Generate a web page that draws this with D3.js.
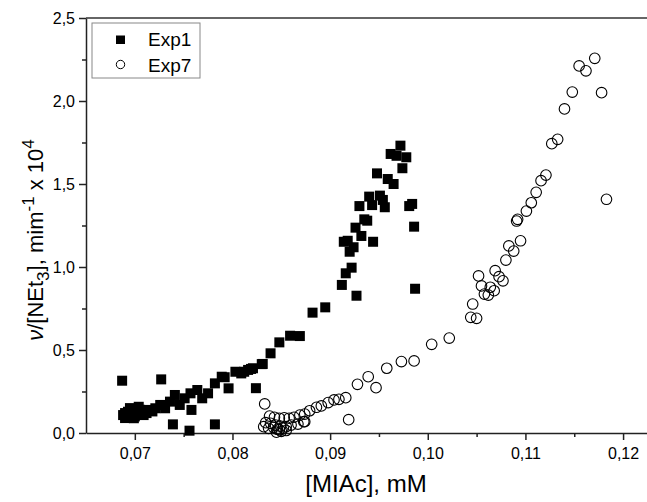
<!DOCTYPE html>
<html>
<head>
<meta charset="utf-8">
<script src="https://cdn.jsdelivr.net/npm/d3@7"></script>
<style>
  body { margin: 0; background: #fff; }
  text { font-family: Arial, "Liberation Sans", sans-serif; fill: #000; }
</style>
</head>
<body>
<script>
// Exp1 (filled squares): [MIAc] mM, rate
var exp1X = [0.0687, 0.0727, 0.0739, 0.0756, 0.0782, 0.0824, 0.0830,
  0.0688, 0.0693, 0.0699, 0.0704, 0.0709, 0.0714, 0.0721, 0.0726, 0.0731, 0.0736,
  0.0741, 0.0746, 0.0751, 0.0758, 0.0757, 0.0764, 0.0769, 0.0775, 0.0782, 0.0789,
  0.0796, 0.0803, 0.0809, 0.0816, 0.0821, 0.0690, 0.0700, 0.0705, 0.0712, 0.0695,
  0.0718, 0.0690, 0.0792, 0.0812, 0.0819, 0.0831, 0.0839, 0.0848, 0.0859, 0.0869,
  0.0882, 0.0895, 0.0927, 0.0972, 0.0962, 0.0968, 0.0978, 0.0974, 0.0948, 0.0959,
  0.0965, 0.0940, 0.0951, 0.0954, 0.0943, 0.0956, 0.0930, 0.0981, 0.0984, 0.0935,
  0.0938, 0.0926, 0.0986, 0.0932, 0.0914, 0.0918, 0.0944, 0.0924, 0.0920, 0.0922,
  0.0916, 0.0912, 0.0987];
var exp1Y = [0.315, 0.323, 0.052, 0.014, 0.052, 0.270, 0.415,
  0.108, 0.128, 0.089, 0.158, 0.108, 0.139, 0.149, 0.169, 0.149, 0.189,
  0.229, 0.169, 0.209, 0.139, 0.239, 0.259, 0.209, 0.239, 0.299, 0.339,
  0.269, 0.369, 0.359, 0.380, 0.390, 0.120, 0.100, 0.140, 0.120, 0.150,
  0.130, 0.090, 0.336, 0.369, 0.386, 0.416, 0.480, 0.546, 0.586, 0.584,
  0.725, 0.757, 0.827, 1.731, 1.681, 1.670, 1.661, 1.595, 1.564, 1.530,
  1.500, 1.424, 1.430, 1.404, 1.373, 1.360, 1.367, 1.367, 1.380, 1.287,
  1.279, 1.237, 1.243, 1.187, 1.152, 1.158, 1.152, 1.119, 1.092, 0.996,
  0.962, 0.892, 0.869];

// Exp7 (open circles)
var exp7X = [0.1171, 0.1155, 0.1162, 0.1148, 0.1178, 0.1140, 0.1133, 0.1127,
  0.1121, 0.1116, 0.1111, 0.1106, 0.1101, 0.1183, 0.1092, 0.1091, 0.1095, 0.1083,
  0.1088, 0.1080, 0.1069, 0.1073, 0.1077, 0.1052, 0.1055, 0.1064, 0.1068, 0.1058,
  0.1062, 0.1046, 0.1044, 0.1050, 0.1022, 0.1004, 0.0986, 0.0973, 0.0958, 0.0947,
  0.0939, 0.0928, 0.0919, 0.0833, 0.0916, 0.0909, 0.0904, 0.0898, 0.0891, 0.0886,
  0.0879, 0.0874, 0.0869, 0.0863, 0.0858, 0.0853, 0.0848, 0.0843, 0.0838, 0.0874,
  0.0867, 0.0860, 0.0855, 0.0849, 0.0844, 0.0839, 0.0834, 0.0832, 0.0837, 0.0842,
  0.0846, 0.0850, 0.0848, 0.0852, 0.0855, 0.0845, 0.0873];
var exp7Y = [2.257, 2.211, 2.182, 2.054, 2.050, 1.952, 1.769, 1.743,
  1.554, 1.520, 1.450, 1.387, 1.337, 1.408, 1.287, 1.277, 1.158, 1.127,
  1.096, 1.042, 0.978, 0.942, 0.917, 0.946, 0.886, 0.878, 0.857, 0.837,
  0.831, 0.777, 0.697, 0.691, 0.572, 0.534, 0.434, 0.430, 0.390, 0.273,
  0.339, 0.293, 0.080, 0.175, 0.213, 0.203, 0.199, 0.183, 0.163, 0.155,
  0.134, 0.114, 0.108, 0.095, 0.089, 0.092, 0.089, 0.095, 0.102, 0.068,
  0.054, 0.048, 0.038, 0.042, 0.048, 0.058, 0.062, 0.038, 0.028, 0.034,
  0.022, 0.010, 0.020, 0.030, 0.015, 0.005, 0.068];

var xTicks = [0.07, 0.08, 0.09, 0.10, 0.11, 0.12];
var xMinor = [0.075, 0.085, 0.095, 0.105, 0.115];
var yTicks = [0.0, 0.5, 1.0, 1.5, 2.0, 2.5];
var yMinor = [0.25, 0.75, 1.25, 1.75, 2.25];

var width = 647, height = 502;
var plotLeft = 86, plotTop = 18, plotBottom = 433;

var svg = d3.select("body").append("svg")
  .attr("width", width)
  .attr("height", height);

var x = d3.scaleLinear().domain([0.065, 0.12245]).range([plotLeft, width]);
var y = d3.scaleLinear().domain([0, 2.5]).range([plotBottom, plotTop]);

var fmt = function (d) { return d.toFixed(2).replace(".", ","); };
var fmtY = function (d) { return d.toFixed(1).replace(".", ","); };

// minor ticks
svg.append("g")
  .attr("transform", "translate(0," + plotBottom + ")")
  .call(d3.axisBottom(x).tickValues(xMinor).tickSize(4).tickFormat(""))
  .call(function (g) { g.select(".domain").remove(); });
svg.append("g")
  .attr("transform", "translate(" + plotLeft + ",0)")
  .call(d3.axisLeft(y).tickValues(yMinor).tickSize(4).tickFormat(""))
  .call(function (g) { g.select(".domain").remove(); });

var xAxis = svg.append("g")
  .attr("transform", "translate(0," + plotBottom + ")")
  .call(d3.axisBottom(x).tickValues(xTicks).tickSize(7).tickSizeOuter(0).tickPadding(8).tickFormat(fmt))
  .attr("font-size", 16);

var yAxis = svg.append("g")
  .attr("transform", "translate(" + plotLeft + ",0)")
  .call(d3.axisLeft(y).tickValues(yTicks).tickSize(7).tickSizeOuter(0).tickPadding(4).tickFormat(fmtY))
  .attr("font-size", 16);

svg.selectAll(".domain, .tick line").attr("stroke", "#222").attr("stroke-width", 1.5);

// top frame line
svg.append("line")
  .attr("x1", plotLeft).attr("x2", width)
  .attr("y1", plotTop).attr("y2", plotTop)
  .attr("stroke", "#333").attr("stroke-width", 1.5);

// Exp7 circles
svg.append("g").selectAll("circle")
  .data(d3.range(exp7X.length))
  .enter().append("circle")
  .attr("cx", function (i) { return x(exp7X[i]); })
  .attr("cy", function (i) { return y(exp7Y[i]); })
  .attr("r", 5.3)
  .attr("fill", "none")
  .attr("stroke", "#000")
  .attr("stroke-width", 1.1);

// Exp1 squares
svg.append("g").selectAll("rect")
  .data(d3.range(exp1X.length))
  .enter().append("rect")
  .attr("x", function (i) { return x(exp1X[i]) - 5; })
  .attr("y", function (i) { return y(exp1Y[i]) - 5; })
  .attr("width", 10)
  .attr("height", 10)
  .attr("fill", "#000");

// legend
var legend = svg.append("g");
legend.append("rect")
  .attr("x", 92).attr("y", 23).attr("width", 108).attr("height", 55)
  .attr("fill", "#fff").attr("stroke", "#888").attr("stroke-width", 1);
legend.append("rect")
  .attr("x", 116).attr("y", 35.5).attr("width", 9).attr("height", 8.5).attr("fill", "#000");
legend.append("circle")
  .attr("cx", 120.5).attr("cy", 64.5).attr("r", 4.2)
  .attr("fill", "none").attr("stroke", "#000").attr("stroke-width", 1);
legend.append("text").attr("x", 148).attr("y", 46).style("font-size", "19px").text("Exp1");
legend.append("text").attr("x", 148).attr("y", 72).style("font-size", "19px").text("Exp7");

// axis titles
svg.append("text")
  .attr("x", 366).attr("y", 492)
  .attr("text-anchor", "middle")
  .style("font-size", "24px")
  .text("[MIAc], mM");

var yt = svg.append("text")
  .attr("transform", "translate(43,240) rotate(-90)")
  .attr("text-anchor", "middle")
  .style("font-size", "22px");
yt.append("tspan").style("font-style", "italic").text("\u03bd");
yt.append("tspan").text("/[NEt");
yt.append("tspan").attr("dy", 6).style("font-size", "17px").text("3");
yt.append("tspan").attr("dy", -6).text("], mim");
yt.append("tspan").attr("dy", -9).style("font-size", "17px").text("-1");
yt.append("tspan").attr("dy", 9).text(" x 10");
yt.append("tspan").attr("dy", -9).style("font-size", "17px").text("4");
</script>
</body>
</html>
